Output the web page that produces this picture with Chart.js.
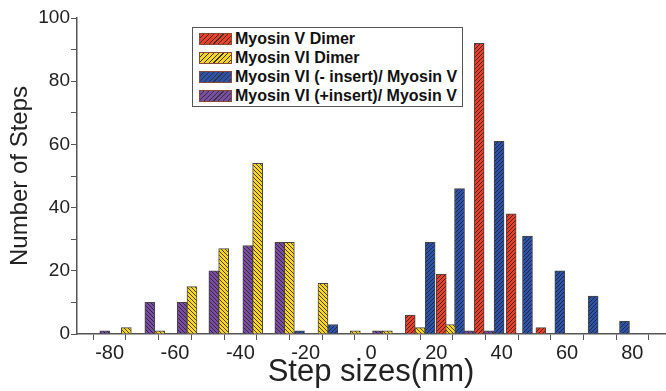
<!DOCTYPE html>
<html>
<head>
<meta charset="utf-8">
<script src="https://cdn.jsdelivr.net/npm/chart.js@4.4.1/dist/chart.umd.min.js"></script>
<style>
  html, body { margin: 0; padding: 0; background: #fff; }
  #wrap { position: relative; width: 666px; height: 391px; }
  #legend {
    position: absolute; left: 192px; top: 27px; width: 269px; height: 77px;
    border: 1px solid #555; background: #fff; box-sizing: content-box;
    font-family: "Liberation Sans", Arial, sans-serif; font-weight: bold; font-size: 16px; color: #111;
    padding-top: 1px;
  }
  .row { height: 19px; display: flex; align-items: center; }
  .sw { width: 33px; height: 12px; margin-left: 6px; margin-right: 3px; border: 1px solid #8a4a3a; box-sizing: border-box; }
</style>
</head>
<body>
<div id="wrap">
  <canvas id="c" width="666" height="391"></canvas>
  <div id="legend"></div>
</div>
<script>
// ---- data ----
const seriesNames = ["Myosin V Dimer", "Myosin VI Dimer", "Myosin VI (- insert)/ Myosin V", "Myosin VI (+insert)/ Myosin V"];

const redX    = [12.0, 21.5, 33.1, 42.9, 52.0];
const redY    = [6, 19, 92, 38, 2];

const yellowX = [-74.9, -64.7, -54.8, -45.1, -34.7, -25.0, -14.7, -4.8, 5.0, 15.0, 24.3];
const yellowY = [2, 1, 15, 27, 54, 29, 16, 1, 1, 2, 3];

const blueX   = [-21.9, -11.7, 18.1, 27.1, 39.2, 47.9, 57.8, 68.0, 77.6];
const blueY   = [1, 3, 29, 46, 61, 31, 20, 12, 4];

const purpleX = [-81.5, -67.7, -57.8, -48.1, -37.7, -27.9, 2.0, 30.1, 36.2];
const purpleY = [1, 10, 10, 20, 28, 29, 1, 1, 1];

const xTickLabels = [-80, -60, -40, -20, 0, 20, 40, 60, 80];
const yTickLabels = [0, 20, 40, 60, 80, 100];

// ---- styles ----
const colors = ["#ee3f28", "#fbd420", "#2d52ab", "#7a4ca3"];
const hatchDir = ["/", "\\", "/", "\\"];

function hatch(color, dir) {
  const s = 4;
  const cv = document.createElement("canvas");
  cv.width = s; cv.height = s;
  const g = cv.getContext("2d");
  g.fillStyle = color; g.fillRect(0, 0, s, s);
  g.strokeStyle = "rgba(30,30,30,0.8)"; g.lineWidth = 1;
  g.beginPath();
  if (dir === "/") {
    g.moveTo(-1, s + 1); g.lineTo(s + 1, -1);
    g.moveTo(-1, 1); g.lineTo(1, -1);
    g.moveTo(s - 1, s + 1); g.lineTo(s + 1, s - 1);
  } else {
    g.moveTo(-1, -1); g.lineTo(s + 1, s + 1);
    g.moveTo(s - 1, -1); g.lineTo(s + 1, 1);
    g.moveTo(-1, s - 1); g.lineTo(1, s + 1);
  }
  g.stroke();
  return document.getElementById("c").getContext("2d").createPattern(cv, "repeat");
}

function pts(xs, ys) { return xs.map((x, i) => ({ x: x, y: ys[i] })); }

const allX = [redX, yellowX, blueX, purpleX];
const allY = [redY, yellowY, blueY, purpleY];

const datasets = seriesNames.map((name, i) => ({
  label: name,
  data: pts(allX[i], allY[i]),
  backgroundColor: hatch(colors[i], hatchDir[i]),
  borderColor: "#444",
  borderWidth: 1,
  barThickness: 10,
  grouped: false
}));

// legend (HTML)
const lg = document.getElementById("legend");
seriesNames.forEach((name, i) => {
  const r = document.createElement("div"); r.className = "row";
  const sw = document.createElement("div"); sw.className = "sw";
  sw.style.background = "repeating-linear-gradient(135deg, " + colors[i] + " 0px, " + colors[i] + " 2.6px, #333 2.6px, #333 3.4px)";
  const t = document.createElement("span"); t.textContent = name;
  r.appendChild(sw); r.appendChild(t); lg.appendChild(r);
});

Chart.defaults.font.family = "'Liberation Sans', Arial, sans-serif";
Chart.defaults.color = "#222";

new Chart(document.getElementById("c"), {
  type: "bar",
  data: { datasets: datasets },
  options: {
    responsive: false,
    animation: false,
    layout: { padding: { top: 18, right: 0, left: 0, bottom: 0 } },
    plugins: { legend: { display: false }, tooltip: { enabled: false } },
    scales: {
      x: {
        type: "linear",
        min: -90, max: 90,
        offset: false,
        afterFit: s => { s.height = 57; },
        ticks: {
          stepSize: 10,
          autoSkip: false,
          maxRotation: 0,
          padding: 1,
          font: { size: 20 },
          color: "#222",
          callback: v => xTickLabels.includes(v) ? String(v) : ""
        },
        grid: { display: true, drawOnChartArea: false, tickLength: 6, color: "#555", lineWidth: 1 },
        border: { display: true, color: "#555", width: 1.5 },
        title: { display: true, text: "Step sizes(nm)", font: { size: 31 }, color: "#222", padding: { top: 0, bottom: 0 } }
      },
      y: {
        min: 0, max: 100,
        afterFit: s => { s.width = 77; },
        ticks: {
          stepSize: 10,
          autoSkip: false,
          padding: 1,
          font: { size: 19 },
          color: "#222",
          callback: v => yTickLabels.includes(v) ? String(v) : ""
        },
        grid: { display: true, drawOnChartArea: false, tickLength: 6, color: "#555", lineWidth: 1 },
        border: { display: true, color: "#555", width: 1.5 },
        title: { display: true, text: "Number of Steps", font: { size: 24 }, color: "#222", padding: { top: 6, bottom: 0 } }
      }
    }
  }
});
</script>
</body>
</html>
